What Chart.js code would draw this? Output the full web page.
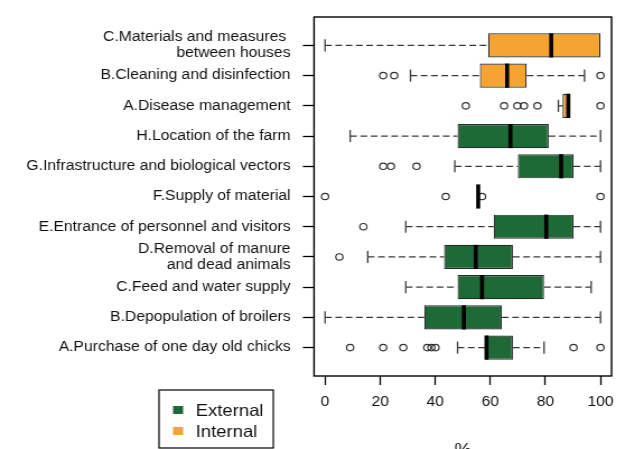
<!DOCTYPE html>
<html>
<head>
<meta charset="utf-8">
<script src="https://cdn.jsdelivr.net/npm/chart.js@4.4.1/dist/chart.umd.min.js"></script>
<style>
  html, body { margin: 0; padding: 0; background: #fff; overflow: hidden; }
  #wrap { width: 557px; height: 470px; transform: scaleX(1.12); transform-origin: 0 0; }
</style>
</head>
<body>
<div id="wrap"><canvas id="c" width="557" height="470"></canvas></div>
<script>
// Biosecurity compliance per item (%), bottom row first
const categories = [
  'A.Purchase of one day old chicks',
  'B.Depopulation of broilers',
  'C.Feed and water supply',
  ['D.Removal of manure', 'and dead animals'],
  'E.Entrance of personnel and visitors',
  'F.Supply of material',
  'G.Infrastructure and biological vectors',
  'H.Location of the farm',
  'A.Disease management',
  'B.Cleaning and disinfection',
  ['C.Materials and measures ', 'between houses']
];
const groups = ['External', 'External', 'External', 'External', 'External', 'External',
                'External', 'External', 'Internal', 'Internal', 'Internal'];
const whiskerLow  = [48.1, 0.0, 29.3, 15.5, 29.3, 55.6, 47.1, 9.1, 84.7, 31.0, 0.0];
const q1          = [58.2, 36.0, 48.1, 43.2, 61.2, 55.6, 70.0, 48.1, 86.2, 56.2, 59.2];
const median      = [58.6, 50.4, 57.0, 54.7, 80.3, 55.6, 85.7, 67.3, 88.3, 66.1, 82.1];
const q3          = [68.2, 64.2, 79.5, 68.2, 90.2, 55.6, 90.2, 81.2, 89.0, 73.2, 100.0];
const whiskerHigh = [79.5, 100.0, 96.6, 100.0, 100.0, 55.6, 100.0, 100.0, 89.0, 94.2, 100.0];
const outliers = [
  [9.1, 21.1, 28.4, 37.1, 38.6, 40.1, 90.2, 100],
  [],
  [],
  [5.2],
  [13.9],
  [0, 43.8, 57.0, 100],
  [21.1, 23.9, 33.2],
  [],
  [51.1, 65.0, 69.8, 72.2, 77.1, 100],
  [21.1, 25.1, 100],
  []
];
const xTicks = [0, 20, 40, 60, 80, 100];
const groupNames = ['External', 'Internal'];
const groupColors = { External: '#1e6a36', Internal: '#f6a431' };

const INK = '#111';
const FONT = "'Liberation Sans', Arial, sans-serif";

function boxesFor(group) {
  const out = [];
  categories.forEach((_, i) => {
    if (groups[i] === group) out.push({ x: [q1[i], q3[i]], y: i + 1 });
  });
  return out;
}
const outlierPoints = [];
outliers.forEach((row, i) => row.forEach(v => outlierPoints.push({ x: v, y: i + 1 })));

function boxHalf(chart) {
  const el = chart.getDatasetMeta(0).data[0];
  return el ? el.height / 2 : 12;
}

// dashed whiskers with staples under the boxes, medians and frame on top
const whiskerPlugin = {
  id: 'whiskers',
  beforeDatasetsDraw(chart) {
    const { ctx, scales: { x, y } } = chart;
    const half = boxHalf(chart);
    ctx.save();
    ctx.strokeStyle = '#3a3a3a';
    ctx.lineWidth = 1.3;
    categories.forEach((_, i) => {
      const py = y.getPixelForValue(i + 1);
      const segs = [[whiskerLow[i], q1[i]], [q3[i], whiskerHigh[i]]];
      ctx.setLineDash([6, 3.2]);
      segs.forEach(([a, b]) => {
        if (b - a <= 0) return;
        ctx.beginPath();
        ctx.moveTo(x.getPixelForValue(a), py);
        ctx.lineTo(x.getPixelForValue(b), py);
        ctx.stroke();
      });
      ctx.setLineDash([]);
      [whiskerLow[i], whiskerHigh[i]].forEach((v, k) => {
        if ((k === 0 && v >= q1[i]) || (k === 1 && v <= q3[i])) return;
        const px = x.getPixelForValue(v);
        ctx.beginPath();
        ctx.moveTo(px, py - half / 2);
        ctx.lineTo(px, py + half / 2);
        ctx.stroke();
      });
    });
    ctx.restore();
  },
  afterDatasetsDraw(chart) {
    const { ctx, scales: { x, y } } = chart;
    const half = boxHalf(chart);
    ctx.save();
    ctx.strokeStyle = '#000';
    ctx.lineWidth = 3.6;
    categories.forEach((_, i) => {
      const py = y.getPixelForValue(i + 1);
      const px = x.getPixelForValue(median[i]);
      ctx.beginPath();
      ctx.moveTo(px, py - half);
      ctx.lineTo(px, py + half);
      ctx.stroke();
    });
    const a = chart.chartArea;
    ctx.strokeStyle = '#000';
    ctx.lineWidth = 1.4;
    ctx.strokeRect(a.left, a.top, a.right - a.left, a.bottom - a.top);
    ctx.restore();
  }
};

// boxed legend beside the x axis
const boxLegend = {
  id: 'boxLegend',
  afterDraw(chart, args, opts) {
    const { ctx } = chart;
    ctx.save();
    ctx.strokeStyle = '#000';
    ctx.lineWidth = 1.2;
    ctx.strokeRect(opts.left, opts.top, opts.width, opts.height);
    ctx.font = opts.fontSize + 'px ' + FONT;
    ctx.textBaseline = 'middle';
    ctx.textAlign = 'left';
    chart.data.datasets.filter(d => d.type === 'bar').forEach((d, k) => {
      const cy = opts.top + opts.firstRow + k * opts.rowGap;
      ctx.fillStyle = d.backgroundColor;
      ctx.fillRect(opts.left + opts.markX, cy - 4, 9, 8);
      ctx.fillStyle = INK;
      ctx.fillText(d.label, opts.left + opts.textX, cy + 1);
    });
    ctx.restore();
  }
};

new Chart(document.getElementById('c'), {
  type: 'bar',
  data: {
    datasets: [
      ...groupNames.map(g => ({
        type: 'bar',
        label: g,
        data: boxesFor(g),
        backgroundColor: groupColors[g],
        borderColor: '#2a2a2a',
        borderWidth: 1.2,
        borderSkipped: false,
        grouped: false,
        barPercentage: 0.8,
        categoryPercentage: 1
      })),
      {
        type: 'scatter',
        label: 'outliers',
        data: outlierPoints,
        pointStyle: 'circle',
        pointRadius: 3.2,
        pointBorderWidth: 1.2,
        pointBorderColor: '#333',
        pointBackgroundColor: 'rgba(255,255,255,0)'
      }
    ]
  },
  options: {
    indexAxis: 'y',
    responsive: false,
    animation: false,
    layout: { padding: { top: 17, right: 11, left: 0, bottom: 0 } },
    scales: {
      x: {
        type: 'linear',
        min: -4,
        max: 104,
        offset: false,
        afterBuildTicks: s => { s.ticks = xTicks.map(v => ({ value: v })); },
        afterFit: s => { s.height = 94; s.paddingLeft = 0; s.paddingRight = 0; },
        grid: { drawOnChartArea: false, drawTicks: true, tickLength: 9, tickColor: '#000', tickWidth: 1.3, offset: false },
        border: { display: false },
        ticks: { color: INK, padding: 9, font: { family: FONT, size: 14 } },
        title: { display: true, text: '%', color: INK, font: { family: FONT, size: 17 }, padding: { top: 0, bottom: 9 } }
      },
      y: {
        type: 'linear',
        min: 0.06,
        max: 11.94,
        offset: false,
        afterBuildTicks: s => { s.ticks = categories.map((_, i) => ({ value: i + 1 })); },
        afterFit: s => { s.width = 280.4; s.paddingTop = 0; s.paddingBottom = 0; },
        grid: { drawOnChartArea: false, drawTicks: true, tickLength: 10, tickColor: '#000', tickWidth: 1.3, offset: false },
        border: { display: false },
        ticks: {
          color: INK,
          padding: 11,
          autoSkip: false,
          font: { family: FONT, size: 14, lineHeight: 1.15 },
          callback: v => categories[Math.round(v) - 1]
        }
      }
    },
    plugins: {
      legend: { display: false },
      tooltip: { enabled: false },
      boxLegend: { left: 142, top: 390, width: 102, height: 58, firstRow: 20, rowGap: 21, markX: 12.5, textX: 32.7, fontSize: 16.5 }
    }
  },
  plugins: [whiskerPlugin, boxLegend]
});
</script>
</body>
</html>
